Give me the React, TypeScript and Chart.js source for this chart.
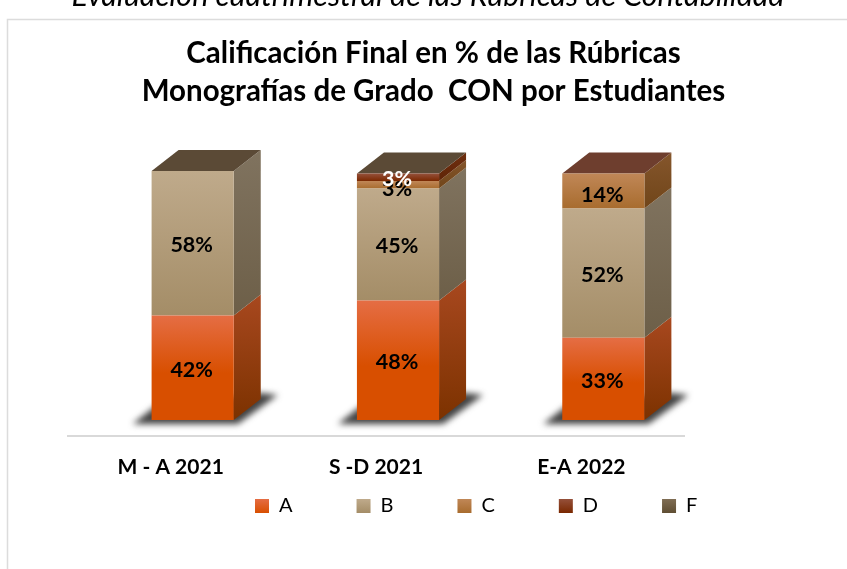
import React, { useEffect, useRef } from "react";
import { Chart, registerables } from "chart.js";

Chart.register(...registerables);

const categories = ["M - A 2021", "S -D 2021", "E-A 2022"];
const seriesNames = ["A", "B", "C", "D", "F"];
const valuesA = [42, 48, 33];
const valuesB = [58, 45, 52];
const valuesC = [null, 3, 14];
const valuesD = [null, 3, 0];
const valuesF = [0, 0, null];
const allValues = [valuesA, valuesB, valuesC, valuesD, valuesF];

const frontTop = ["#e56d44", "#bfaa8b", "#c08757", "#95503a", "#7f6d54"];
const frontBottom = ["#d84f00", "#a48d67", "#a86c2e", "#7a2800", "#5f4e33"];
const sideTop = ["#a8481f", "#80735f", "#85562c", "#6f2f10", "#6b5c46"];
const sideBottom = ["#7c3200", "#6d5f48", "#704519", "#5f2406", "#574833"];
const roofColors = ["#b5562a", "#a38f70", "#a9784a", "#6e3e2e", "#5b4a36"];
const labelColors = ["#000000", "#000000", "#000000", "#ffffff", "#000000"];
const labelNudge = [2, 2, 4, 2, 2];

const pageTitle = "Evaluación cuatrimestral de las Rúbricas de Contabilidad";
const chartTitle = ["Calificación Final en % de las Rúbricas", "Monografías de Grado  CON por Estudiantes"];

const FONT = "Lato, 'Open Sans', sans-serif";
const SHIFT_X = 22;
const SHIFT_Y = -16;
const DEPTH_X = 27;
const DEPTH_Y = -21;

const boxPlugin = {
  id: "box3d",
  beforeDraw(chart: any) {
    const ctx = chart.ctx;
    ctx.save();
    ctx.strokeStyle = "#dcdcdc";
    ctx.lineWidth = 1.5;
    ctx.beginPath();
    ctx.moveTo(7.5, 569);
    ctx.lineTo(7.5, 19.5);
    ctx.lineTo(847, 19.5);
    ctx.stroke();
    ctx.fillStyle = "#000000";
    ctx.font = `italic 30.5px ${FONT}`;
    ctx.textAlign = "center";
    ctx.textBaseline = "alphabetic";
    ctx.fillText(pageTitle, 428, 6);
    ctx.restore();
  },
  beforeLayout(chart: any) {
    const legend = chart.legend;
    if (legend && !legend.__patched) {
      const fit = legend.fit;
      legend.fit = function () {
        fit.call(this);
        this.height = 0;
      };
      legend.__patched = true;
    }
  },
  afterLayout(chart: any) {
    const pad = chart.options.plugins.legend.labels.padding;
    const legend = chart.legend;
    legend.left = 255 - pad;
    legend.right = 847;
    legend.top = 496 - pad;
    legend.bottom = 569;
    chart.titleBlock.left = 0;
    chart.titleBlock.right = 867;
  },
  beforeDatasetsDraw(chart: any) {
    const ctx = chart.ctx;
    const first = chart.getDatasetMeta(0).data;
    ctx.save();
    ctx.translate(SHIFT_X, SHIFT_Y);
    first.forEach((bar: any) => {
      const l = bar.x - bar.width / 2;
      const r = bar.x + bar.width / 2;
      const b = bar.base;
      ctx.save();
      ctx.filter = "blur(3px)";
      ctx.fillStyle = "rgba(45,45,45,0.9)";
      ctx.beginPath();
      ctx.moveTo(l - 19, b + 4);
      ctx.lineTo(r + 4, b + 4);
      ctx.lineTo(r + DEPTH_X + 17, b + DEPTH_Y - 4);
      ctx.lineTo(r + DEPTH_X, b + DEPTH_Y - 6);
      ctx.lineTo(l + 4, b - 14);
      ctx.closePath();
      ctx.fill();
      ctx.restore();
    });
    chart.data.datasets.forEach((_: any, i: number) => {
      chart.getDatasetMeta(i).data.forEach((bar: any, j: number) => {
        if (allValues[i][j] === null) return;
        const r = bar.x + bar.width / 2;
        const l = bar.x - bar.width / 2;
        const top = bar.y;
        const base = bar.base;
        if (base - top > 0) {
          const g = ctx.createLinearGradient(0, top + DEPTH_Y, 0, base);
          g.addColorStop(0, sideTop[i]);
          g.addColorStop(1, sideBottom[i]);
          ctx.fillStyle = g;
          ctx.beginPath();
          ctx.moveTo(r, base);
          ctx.lineTo(r + DEPTH_X, base + DEPTH_Y);
          ctx.lineTo(r + DEPTH_X, top + DEPTH_Y);
          ctx.lineTo(r, top);
          ctx.closePath();
          ctx.fill();
        }
        const laterSeries = allValues.slice(i + 1).some((s) => s[j] !== null);
        if (!laterSeries) {
          ctx.fillStyle = roofColors[i];
          ctx.beginPath();
          ctx.moveTo(l, top);
          ctx.lineTo(l + DEPTH_X, top + DEPTH_Y);
          ctx.lineTo(r + DEPTH_X, top + DEPTH_Y);
          ctx.lineTo(r, top);
          ctx.closePath();
          ctx.fill();
        }
      });
    });
  },
  afterDatasetsDraw(chart: any) {
    const ctx = chart.ctx;
    ctx.font = `bold 21.5px ${FONT}`;
    ctx.textAlign = "center";
    ctx.textBaseline = "middle";
    [2, 0, 1, 3, 4].forEach((i) => {
      chart.getDatasetMeta(i).data.forEach((bar: any, j: number) => {
        const v = allValues[i][j];
        if (!v) return;
        ctx.fillStyle = labelColors[i];
        ctx.fillText(`${v}%`, bar.x - 1, (bar.y + bar.base) / 2 + labelNudge[i]);
      });
    });
    ctx.restore();
  },
};

function frontFill(i: number) {
  return (c: any) => {
    const { chart, dataIndex } = c;
    const y = chart.scales.y;
    if (!y || !chart.chartArea) return frontBottom[i];
    let below = 0;
    for (let k = 0; k < i; k++) below += allValues[k][dataIndex] ?? 0;
    const own = allValues[i][dataIndex] ?? 0;
    const y0 = y.getPixelForValue(below + own);
    const y1 = y.getPixelForValue(below);
    if (y1 - y0 < 0.5) return frontBottom[i];
    const g = chart.ctx.createLinearGradient(0, y0, 0, y1);
    g.addColorStop(0, frontTop[i]);
    if (i === 0) g.addColorStop(0.55, frontBottom[i]);
    g.addColorStop(1, frontBottom[i]);
    return g;
  };
}

export default function App() {
  const ref = useRef<HTMLCanvasElement | null>(null);
  useEffect(() => {
    if (!ref.current) return;
    const chart = new Chart(ref.current, {
      type: "bar",
      data: {
        labels: categories,
        datasets: seriesNames.map((name, i) => ({
          label: name,
          data: allValues[i],
          backgroundColor: frontFill(i),
          borderWidth: 0,
          categoryPercentage: 1,
          barPercentage: 0.4,
        })),
      },
      options: {
        animation: false,
        responsive: false,
        events: [],
        layout: { padding: { left: 68, right: 163, top: 0, bottom: 0 } },
        scales: {
          x: {
            stacked: true,
            grid: { display: false, drawTicks: false },
            border: { display: true, color: "#d9d9d9", width: 2 },
            ticks: {
              color: "#000000",
              font: { family: FONT, size: 21, weight: "bold" },
              padding: 19,
              maxRotation: 0,
            },
            afterFit: (s: any) => {
              s.height = 133;
            },
          },
          y: {
            display: false,
            stacked: true,
            min: 0,
            max: 100,
          },
        },
        plugins: {
          tooltip: { enabled: false },
          title: {
            display: true,
            text: chartTitle,
            color: "#000000",
            font: { family: FONT, size: 29.5, weight: "bold", lineHeight: 1.29 },
            padding: { top: 34, bottom: 77 },
          },
          legend: {
            position: "bottom",
            align: "start",
            labels: {
              boxWidth: 14,
              boxHeight: 14,
              padding: 64,
              color: "#000000",
              font: { family: FONT, size: 20 },
              generateLabels: (ch: any) =>
                seriesNames.map((name, i) => {
                  const g = ch.ctx.createLinearGradient(0, 499, 0, 513);
                  g.addColorStop(0, frontTop[i]);
                  g.addColorStop(1, frontBottom[i]);
                  return { text: name, fillStyle: g, strokeStyle: "rgba(0,0,0,0)", lineWidth: 0, datasetIndex: i, hidden: false };
                }),
            },
          },
        },
      },
      plugins: [boxPlugin],
    } as any);
    return () => chart.destroy();
  }, []);
  return (
    <canvas
      ref={ref}
      width={847}
      height={569}
      style={{ position: "absolute", left: 0, top: 0, display: "block" }}
    />
  );
}
